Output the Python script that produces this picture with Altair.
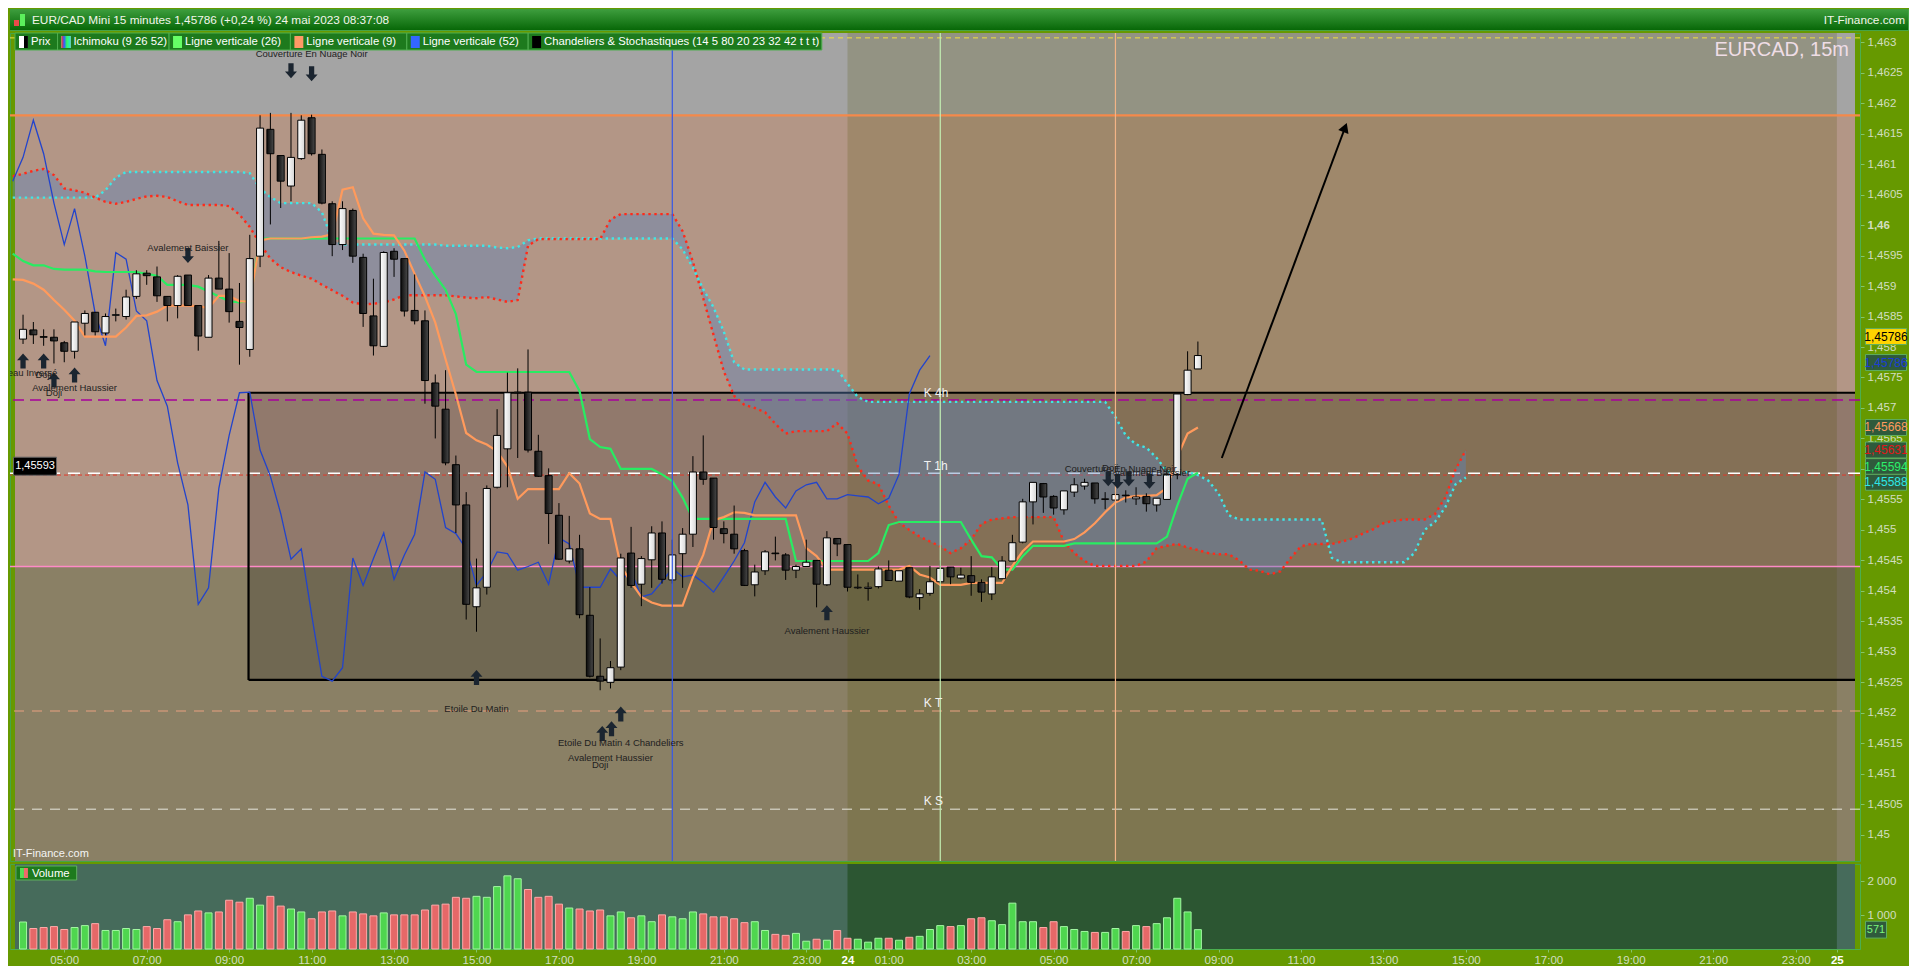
import altair as alt
import pandas as pd

# ---- values -------------------------------------------------------------
# 15 minute bars, 23 mai 04:00 -> 24 mai 08:30 ; x axis = hours since 23 mai 00:00
first_bar_hour = 4.0
bar_step = 0.25

bar_open = [1.45813, 1.45828, 1.45817, 1.45816, 1.45807, 1.45793, 1.45839, 1.45857, 1.45823, 1.45852,
            1.45850, 1.45883, 1.45921, 1.45915, 1.45883, 1.45868, 1.45918, 1.45868, 1.45816, 1.45913,
            1.45895, 1.45842, 1.45796, 1.45949, 1.46157, 1.46114, 1.46064, 1.46109, 1.46176, 1.46116,
            1.46035, 1.45968, 1.46024, 1.45947, 1.45851, 1.45801, 1.45957, 1.45945, 1.45860, 1.45843,
            1.45741, 1.45698, 1.45607, 1.45541, 1.45374, 1.45406, 1.45570, 1.45633, 1.45725, 1.45726,
            1.45629, 1.45589, 1.45524, 1.45449, 1.45469, 1.45360, 1.45260, 1.45250, 1.45275, 1.45462,
            1.45411, 1.45451, 1.45495, 1.45418, 1.45461, 1.45493, 1.45595, 1.45585, 1.45502, 1.45493,
            1.45466, 1.45410, 1.45433, 1.45462, 1.45459, 1.45434, 1.45440, 1.45450, 1.45410, 1.45486,
            1.45476, 1.45405, 1.45404, 1.45407, 1.45434, 1.45416, 1.45438, 1.45389, 1.45396, 1.45415,
            1.45439, 1.45421, 1.45425, 1.45414, 1.45395, 1.45420, 1.45449, 1.45480, 1.45546, 1.45576,
            1.45555, 1.45533, 1.45562, 1.45572, 1.45577, 1.45550, 1.45549, 1.45557, 1.45551, 1.45555,
            1.45541, 1.45550, 1.45591, 1.45722, 1.45764]
bar_high = [1.45853, 1.45841, 1.45829, 1.45829, 1.45810, 1.45841, 1.45860, 1.45857, 1.45855, 1.45863,
            1.45894, 1.45926, 1.45926, 1.45932, 1.45883, 1.45918, 1.45918, 1.45868, 1.45918, 1.45974,
            1.45954, 1.45905, 1.45984, 1.46180, 1.46184, 1.46114, 1.46184, 1.46180, 1.46181, 1.46124,
            1.46039, 1.46039, 1.46027, 1.45953, 1.45912, 1.45957, 1.45962, 1.45945, 1.45919, 1.45860,
            1.45755, 1.45762, 1.45622, 1.45562, 1.45453, 1.45573, 1.45698, 1.45758, 1.45765, 1.45796,
            1.45656, 1.45601, 1.45544, 1.45523, 1.45492, 1.45406, 1.45322, 1.45285, 1.45461, 1.45505,
            1.45457, 1.45506, 1.45514, 1.45484, 1.45503, 1.45621, 1.45655, 1.45585, 1.45514, 1.45540,
            1.45469, 1.45443, 1.45467, 1.45489, 1.45462, 1.45443, 1.45484, 1.45450, 1.45498, 1.45486,
            1.45476, 1.45427, 1.45414, 1.45440, 1.45450, 1.45433, 1.45438, 1.45403, 1.45441, 1.45450,
            1.45439, 1.45438, 1.45457, 1.45419, 1.45439, 1.45457, 1.45492, 1.45551, 1.45578, 1.45577,
            1.45557, 1.45564, 1.45585, 1.45584, 1.45577, 1.45562, 1.45564, 1.45565, 1.45570, 1.45560,
            1.45552, 1.45599, 1.45723, 1.45793, 1.45809]
bar_low = [1.45805, 1.45805, 1.45802, 1.45773, 1.45775, 1.45781, 1.45819, 1.45819, 1.45819, 1.45842,
           1.45845, 1.45879, 1.45902, 1.45874, 1.45842, 1.45847, 1.45868, 1.45794, 1.45816, 1.45895,
           1.45840, 1.45771, 1.45784, 1.45931, 1.46001, 1.46028, 1.46039, 1.46107, 1.46114, 1.46034,
           1.45949, 1.45959, 1.45938, 1.45833, 1.45786, 1.45800, 1.45915, 1.45850, 1.45837, 1.45707,
           1.45650, 1.45606, 1.45495, 1.45353, 1.45333, 1.45394, 1.45568, 1.45570, 1.45618, 1.45627,
           1.45587, 1.45477, 1.45451, 1.45445, 1.45355, 1.45258, 1.45237, 1.45240, 1.45270, 1.45405,
           1.45375, 1.45405, 1.45412, 1.45412, 1.45405, 1.45472, 1.45574, 1.45484, 1.45478, 1.45461,
           1.45408, 1.45391, 1.45426, 1.45450, 1.45418, 1.45421, 1.45440, 1.45373, 1.45408, 1.45457,
           1.45399, 1.45403, 1.45384, 1.45404, 1.45417, 1.45416, 1.45388, 1.45369, 1.45392, 1.45411,
           1.45411, 1.45419, 1.45392, 1.45382, 1.45385, 1.45420, 1.45449, 1.45478, 1.45509, 1.45528,
           1.45525, 1.45525, 1.45554, 1.45566, 1.45543, 1.45534, 1.45534, 1.45545, 1.45541, 1.45530,
           1.45530, 1.45550, 1.45583, 1.45721, 1.45764]
bar_close = [1.45829, 1.45820, 1.45816, 1.45810, 1.45793, 1.45841, 1.45855, 1.45825, 1.45850, 1.45853,
             1.45882, 1.45920, 1.45917, 1.45884, 1.45868, 1.45916, 1.45868, 1.45818, 1.45913, 1.45895,
             1.45858, 1.45832, 1.45945, 1.46159, 1.46117, 1.46072, 1.46111, 1.46172, 1.46117, 1.46036,
             1.45968, 1.46027, 1.45949, 1.45855, 1.45802, 1.45955, 1.45944, 1.45859, 1.45843, 1.45745,
             1.45703, 1.45610, 1.45541, 1.45378, 1.45405, 1.45568, 1.45655, 1.45725, 1.45726, 1.45631,
             1.45588, 1.45527, 1.45452, 1.45469, 1.45361, 1.45260, 1.45252, 1.45274, 1.45454, 1.45409,
             1.45453, 1.45495, 1.45419, 1.45459, 1.45493, 1.45595, 1.45583, 1.45504, 1.45494, 1.45469,
             1.45409, 1.45431, 1.45464, 1.45461, 1.45434, 1.45440, 1.45447, 1.45411, 1.45487, 1.45477,
             1.45406, 1.45406, 1.45406, 1.45436, 1.45417, 1.45433, 1.45390, 1.45395, 1.45415, 1.45437,
             1.45423, 1.45426, 1.45414, 1.45398, 1.45423, 1.45449, 1.45479, 1.45546, 1.45578, 1.45554,
             1.45536, 1.45564, 1.45574, 1.45578, 1.45551, 1.45551, 1.45558, 1.45556, 1.45554, 1.45543,
             1.45552, 1.45591, 1.45723, 1.45762, 1.45786]
bar_volume = [797, 605, 634, 662, 576, 634, 691, 749, 547, 547,
              605, 576, 662, 605, 864, 806, 1008, 1123, 1066, 1094,
              1440, 1382, 1498, 1296, 1555, 1267, 1181, 1094, 893, 1094,
              1123, 979, 1094, 1037, 979, 1066, 1008, 1008, 1008, 1152,
              1296, 1325, 1526, 1498, 1555, 1526, 1843, 2160, 2074, 1757,
              1526, 1555, 1325, 1210, 1181, 1123, 1152, 979, 1094, 922,
              979, 806, 1008, 950, 893, 1094, 1037, 950, 950, 893,
              778, 806, 547, 432, 403, 461, 230, 288, 259, 547,
              317, 288, 202, 317, 317, 259, 346, 374, 576, 691,
              662, 691, 893, 922, 835, 720, 1354, 806, 806, 634,
              806, 662, 576, 518, 490, 490, 605, 518, 691, 662,
              749, 922, 1498, 1094, 571]

# Ichimoku lines, one value per bar starting one bar before the first candle
tenkan = [1.45911, 1.45910, 1.45904, 1.45894, 1.45877, 1.45861, 1.45843, 1.45817, 1.45817, 1.45817,
          1.45817, 1.45832, 1.45851, 1.45852, 1.45858, 1.45868, 1.45868, 1.45868, 1.45867, 1.45864,
          1.45884, 1.45884, 1.45875, 1.45875, 1.45975, 1.45978, 1.45978, 1.45978, 1.45978, 1.45980,
          1.45981, 1.45985, 1.46058, 1.46062, 1.46011, 1.45986, 1.45984, 1.45983, 1.45958, 1.45920,
          1.45883, 1.45840, 1.45780, 1.45722, 1.45659, 1.45647, 1.45640, 1.45629, 1.45604, 1.45551,
          1.45567, 1.45567, 1.45567, 1.45567, 1.45593, 1.45576, 1.45527, 1.45518, 1.45518, 1.45441,
          1.45414, 1.45390, 1.45381, 1.45376, 1.45376, 1.45376, 1.45422, 1.45459, 1.45516, 1.45521,
          1.45529, 1.45528, 1.45524, 1.45524, 1.45524, 1.45524, 1.45524, 1.45470, 1.45457, 1.45435,
          1.45435, 1.45435, 1.45435, 1.45435, 1.45435, 1.45435, 1.45435, 1.45441, 1.45427, 1.45422,
          1.45410, 1.45410, 1.45410, 1.45413, 1.45413, 1.45413, 1.45413, 1.45441, 1.45465, 1.45481,
          1.45481, 1.45481, 1.45481, 1.45485, 1.45496, 1.45511, 1.45529, 1.45545, 1.45553, 1.45556,
          1.45556, 1.45557, 1.45569, 1.45620, 1.45658, 1.45668]
kijun = [1.45953, 1.45941, 1.45934, 1.45934, 1.45928, 1.45927, 1.45927, 1.45927, 1.45924, 1.45923,
         1.45923, 1.45923, 1.45923, 1.45920, 1.45917, 1.45902, 1.45902, 1.45902, 1.45899, 1.45891,
         1.45883, 1.45875, 1.45873, 1.45877, 1.45978, 1.45978, 1.45978, 1.45978, 1.45978, 1.45978,
         1.45978, 1.45978, 1.45978, 1.45978, 1.45978, 1.45978, 1.45978, 1.45978, 1.45978, 1.45978,
         1.45943, 1.45917, 1.45894, 1.45854, 1.45771, 1.45759, 1.45759, 1.45759, 1.45759, 1.45759,
         1.45759, 1.45759, 1.45759, 1.45759, 1.45759, 1.45728, 1.45649, 1.45636, 1.45633, 1.45600,
         1.45600, 1.45600, 1.45600, 1.45591, 1.45580, 1.45553, 1.45518, 1.45518, 1.45518, 1.45518,
         1.45518, 1.45518, 1.45518, 1.45518, 1.45518, 1.45518, 1.45449, 1.45449, 1.45449, 1.45449,
         1.45449, 1.45449, 1.45449, 1.45449, 1.45462, 1.45508, 1.45513, 1.45513, 1.45513, 1.45513,
         1.45513, 1.45513, 1.45513, 1.45484, 1.45457, 1.45455, 1.45435, 1.45435, 1.45457, 1.45474,
         1.45474, 1.45474, 1.45474, 1.45478, 1.45478, 1.45478, 1.45478, 1.45478, 1.45478, 1.45478,
         1.45478, 1.45478, 1.45489, 1.45540, 1.45584, 1.45594]
senkou_a = [1.46045, 1.46045, 1.46045, 1.46045, 1.46045, 1.46045, 1.46045, 1.46045, 1.46045, 1.46057,
            1.46078, 1.46087, 1.46087, 1.46087, 1.46087, 1.46087, 1.46087, 1.46087, 1.46087, 1.46087,
            1.46087, 1.46087, 1.46087, 1.46085, 1.46060, 1.46046, 1.46036, 1.46036, 1.46036, 1.46036,
            1.46021, 1.45975, 1.45968, 1.45968, 1.45968, 1.45968, 1.45968, 1.45968, 1.45968, 1.45968,
            1.45968, 1.45968, 1.45966, 1.45966, 1.45966, 1.45966, 1.45966, 1.45963, 1.45962, 1.45964,
            1.45975, 1.45978, 1.45978, 1.45978, 1.45978, 1.45978, 1.45978, 1.45978, 1.45978, 1.45978,
            1.45978, 1.45978, 1.45978, 1.45978, 1.45978, 1.45960, 1.45930, 1.45895, 1.45865, 1.45825,
            1.45775, 1.45763, 1.45763, 1.45763, 1.45763, 1.45763, 1.45763, 1.45763, 1.45763, 1.45763,
            1.45763, 1.45740, 1.45718, 1.45710, 1.45710, 1.45710, 1.45710, 1.45710, 1.45710, 1.45710,
            1.45710, 1.45710, 1.45710, 1.45710, 1.45710, 1.45710, 1.45710, 1.45710, 1.45710, 1.45710,
            1.45710, 1.45710, 1.45710, 1.45710, 1.45710, 1.45710, 1.45710, 1.45685, 1.45655, 1.45640,
            1.45635, 1.45618, 1.45596, 1.45593, 1.45595, 1.45590, 1.45581, 1.45560, 1.45524, 1.45517,
            1.45517, 1.45517, 1.45517, 1.45517, 1.45517, 1.45517, 1.45517, 1.45517, 1.45454, 1.45447,
            1.45447, 1.45447, 1.45447, 1.45447, 1.45447, 1.45447, 1.45462, 1.45500, 1.45513, 1.45537,
            1.45575, 1.45586]
senkou_b = [1.46080, 1.46084, 1.46089, 1.46092, 1.46082, 1.46060, 1.46057, 1.46053, 1.46045, 1.46038,
            1.46035, 1.46038, 1.46043, 1.46047, 1.46048, 1.46046, 1.46039, 1.46033, 1.46033, 1.46033,
            1.46033, 1.46031, 1.46017, 1.45997, 1.45969, 1.45945, 1.45931, 1.45923, 1.45917, 1.45912,
            1.45902, 1.45893, 1.45884, 1.45873, 1.45870, 1.45871, 1.45873, 1.45878, 1.45885, 1.45885,
            1.45885, 1.45885, 1.45885, 1.45883, 1.45881, 1.45880, 1.45882, 1.45878, 1.45874, 1.45877,
            1.45966, 1.45977, 1.45977, 1.45977, 1.45977, 1.45977, 1.45977, 1.45977, 1.46009, 1.46018,
            1.46018, 1.46018, 1.46018, 1.46018, 1.46018, 1.45990, 1.45940, 1.45880, 1.45820, 1.45760,
            1.45720, 1.45705, 1.45700, 1.45693, 1.45674, 1.45658, 1.45662, 1.45662, 1.45662, 1.45662,
            1.45675, 1.45658, 1.45604, 1.45581, 1.45575, 1.45540, 1.45512, 1.45500, 1.45489, 1.45481,
            1.45473, 1.45462, 1.45470, 1.45484, 1.45510, 1.45517, 1.45519, 1.45521, 1.45521, 1.45521,
            1.45521, 1.45521, 1.45481, 1.45462, 1.45449, 1.45441, 1.45441, 1.45441, 1.45441, 1.45441,
            1.45448, 1.45470, 1.45474, 1.45477, 1.45471, 1.45467, 1.45462, 1.45460, 1.45460, 1.45450,
            1.45435, 1.45433, 1.45427, 1.45432, 1.45454, 1.45473, 1.45477, 1.45477, 1.45477, 1.45481,
            1.45486, 1.45494, 1.45501, 1.45511, 1.45515, 1.45517, 1.45517, 1.45517, 1.45526, 1.45553,
            1.45599, 1.45631]

# price levels drawn across the chart
level_zone_top = 1.4618
level_pink = 1.4544
level_magenta = 1.45713
level_red = 1.45590
level_white = 1.45593
level_kt = 1.45203
level_ks = 1.45042
level_yellow = 1.46307
box_left, box_top, box_bottom = 9.47, 1.45725, 1.45254
vertical_hours = [19.75, 26.25, 30.5]
day_start, day_end = 24, 48

# pattern annotations (bar index, price)
pattern_text = ["Couverture En Nuage Noir", "Avalement Baissier", "Marteau Inversé", "Doji", "Doji",
                "Avalement Haussier", "Etoile Du Matin", "Etoile Du Matin 4 Chandeliers",
                "Avalement Haussier", "Doji", "Avalement Haussier", "Couverture En Nuage Noir",
                "Doji", "Avalement Baissier"]
pattern_bar = [28, 16, 0, 2, 3, 5, 44, 58, 57, 56, 78, 106.5, 105.5, 109.3]
pattern_price = [1.46280, 1.45963, 1.45757, 1.45754, 1.45725, 1.45733, 1.45206, 1.45150,
                 1.45126, 1.45115, 1.45334, 1.45600, 1.45602, 1.45594]
arrow_bar = [26, 28, 16, 105.3, 106.2, 107.3, 109.3, 0, 2, 3, 5, 44, 56.2, 57.1, 58, 78]
arrow_price = [1.46253, 1.46248, 1.45950, 1.45584, 1.45580, 1.45584, 1.45580,
               1.45777, 1.45777, 1.45746, 1.45754, 1.45258, 1.45166, 1.45174, 1.45198, 1.45364]
arrow_dir = ["down"] * 7 + ["up"] * 9

level_labels = ["K 4h", "T 1h", "K T", "K S"]
level_label_price = [1.45725, 1.45605, 1.45216, 1.45055]
level_label_hour = 25.85

trend_hour = [33.08, 36.07]
trend_price = [1.45618, 1.46160]

tag_value = [1.45786, 1.45786, 1.45668, 1.45631, 1.45594, 1.45588]
left_tag_value = 1.45593

legend_items = ["Prix", "Ichimoku (9 26 52)", "Ligne verticale (26)", "Ligne verticale (9)",
                "Ligne verticale (52)", "Chandeliers & Stochastiques (14 5 80 20 23 32 42 t t t)"]
header_title = "EUR/CAD Mini 15 minutes 1,45786 (+0,24 %) 24 mai 2023 08:37:08"
symbol_label = "EURCAD, 15m"
brand = "IT-Finance.com"

# ---- layout ---------------------------------------------------------------
W, HM, HV, HH = 1850, 828, 85, 21
WH = 1898
X0, X1 = 3.805, 48.44
Y0, Y1 = 1.44957, 1.46315
V1 = 2510
FONT = "Liberation Sans"

xs = alt.Scale(domain=[X0, X1], nice=False, zero=False)
ys = alt.Scale(domain=[Y0, Y1], nice=False, zero=False)
vs = alt.Scale(domain=[0, V1], nice=False, zero=True)


def to_hour(pixel):
    return X0 + pixel * (X1 - X0) / W


price_ticks = [round(1.45 + 0.0005 * i, 4) for i in range(27)]
yax = alt.Axis(orient="right", title=None, values=price_ticks, grid=False,
               labelExpr="replace(format(datum.value, '.4~f'), '.', ',')",
               labelColor="#d2dec0", labelFont=FONT, labelFontSize=11.5,
               labelFontWeight={"condition": {"test": "abs(datum.value - 1.46) < 0.00001", "value": "bold"},
                                "value": "normal"},
               tickColor="#86c46a", tickSize=4, domainColor="#4caf50", labelPadding=3)


def px(f):
    return alt.X(f, type="quantitative", scale=xs, axis=None)


def py(f):
    return alt.Y(f, type="quantitative", scale=ys, axis=yax)


bar_hours = [first_bar_hour + bar_step * i for i in range(len(bar_open))]
bars = pd.DataFrame({"t": bar_hours, "o": bar_open, "h": bar_high, "l": bar_low,
                     "c": bar_close, "v": bar_volume})
bars["up"] = bars["c"] >= bars["o"]

# background zones
zones = pd.DataFrame({"x": [X0] * 3, "x2": [X1] * 3,
                      "y": [level_zone_top, level_pink, Y0],
                      "y2": [Y1, level_zone_top, level_pink],
                      "c": ["#a4a4a4", "#b39686", "#8a8065"]})
zone_layer = alt.Chart(zones).mark_rect().encode(
    x=px("x"), x2="x2", y=py("y"), y2="y2", fill=alt.Fill("c:N", scale=None))

shade = pd.DataFrame({"x": [box_left, day_start], "x2": [X1, day_end],
                      "y": [box_bottom, Y0], "y2": [box_top, Y1],
                      "c": ["#000000", "#505000"], "o": [0.19, 0.2]})
shade_layer = alt.Chart(shade).mark_rect().encode(
    x=px("x"), x2="x2", y=py("y"), y2="y2",
    fill=alt.Fill("c:N", scale=None), opacity=alt.Opacity("o:Q", scale=None))

layers = [zone_layer, shade_layer]

hline_styles = [
    (level_zone_top, "#f5894a", None, 2.2),
    (level_pink, "#ff8ac8", None, 1.5),
    (level_magenta, "#a8009c", [11, 6], 1.6),
    (level_red, "#e03a2a", [4, 3], 1),
    (level_white, "#ffffff", [12, 8], 1.6),
    (level_kt, "#e8a080", [10, 8], 1),
    (level_ks, "#e6e6dc", [10, 8], 1),
    (level_yellow, "#f0e040", [5, 4], 1),
]
for lvl, col, dash, w in hline_styles:
    kw = {"color": col, "strokeWidth": w}
    if dash:
        kw["strokeDash"] = dash
    layers.append(alt.Chart(pd.DataFrame({"y": [lvl]})).mark_rule(**kw).encode(y=py("y")))

box = pd.DataFrame({"x": [box_left, box_left, box_left], "x2": [X1, X1, box_left],
                    "y": [box_top, box_bottom, box_bottom], "y2": [box_top, box_bottom, box_top]})
layers.append(alt.Chart(box).mark_rule(color="#000000", strokeWidth=2.2).encode(
    x=px("x"), x2="x2", y=py("y"), y2="y2"))

# cloud
cloud = pd.DataFrame({"t": [first_bar_hour + bar_step * (i - 1) for i in range(len(senkou_a))],
                      "a": senkou_a, "b": senkou_b})
layers.append(alt.Chart(cloud).mark_area(color="#5a82bd", opacity=0.42, clip=True).encode(
    x=px("t"), y=py("a"), y2="b"))
layers.append(alt.Chart(cloud).mark_line(color="#3fe6e6", strokeWidth=2.4, strokeDash=[2.4, 3.6],
                                         clip=True).encode(x=px("t"), y=py("a")))
layers.append(alt.Chart(cloud).mark_line(color="#ff2a1a", strokeWidth=2.4, strokeDash=[2.4, 3.6],
                                         clip=True).encode(x=px("t"), y=py("b")))

# chikou = close shifted back 26 bars
chikou = pd.DataFrame({"t": [first_bar_hour + bar_step * (i - 1) for i in range(len(bar_close) - 25)],
                       "v": bar_close[25:]})
layers.append(alt.Chart(chikou).mark_line(color="#2244cc", strokeWidth=1.3, clip=True).encode(
    x=px("t"), y=py("v")))

lines = pd.DataFrame({"t": [first_bar_hour + bar_step * (i - 1) for i in range(len(tenkan))],
                      "tk": tenkan, "kj": kijun})
layers.append(alt.Chart(lines).mark_line(color="#28ec62", strokeWidth=2.2, clip=True).encode(
    x=px("t"), y=py("kj")))
layers.append(alt.Chart(lines).mark_line(color="#ff9a5c", strokeWidth=2.2, clip=True).encode(
    x=px("t"), y=py("tk")))

# candles
grad_white = alt.Gradient(gradient="linear", x1=0, x2=1, y1=0, y2=0,
                          stops=[alt.GradientStop(offset=0, color="#ffffff"),
                                 alt.GradientStop(offset=1, color="#d6d6d6")])
grad_black = alt.Gradient(gradient="linear", x1=0, x2=1, y1=0, y2=0,
                          stops=[alt.GradientStop(offset=0, color="#0c0c0c"),
                                 alt.GradientStop(offset=1, color="#4a4a4a")])
layers.append(alt.Chart(bars).mark_rule(color="#000000", strokeWidth=1).encode(
    x=px("t"), y=py("l"), y2="h"))
layers.append(alt.Chart(bars[bars["up"]]).mark_bar(size=7, stroke="#000000", strokeWidth=1,
                                                 fill=grad_white).encode(x=px("t"), y=py("o"), y2="c"))
layers.append(alt.Chart(bars[~bars["up"]]).mark_bar(size=7, stroke="#000000", strokeWidth=1,
                                                  fill=grad_black).encode(x=px("t"), y=py("o"), y2="c"))

# vertical lines
vlines = pd.DataFrame({"x": vertical_hours, "c": ["#3558e8", "#c4f0b4", "#f2b486"]})
layers.append(alt.Chart(vlines).mark_rule(strokeWidth=1.2).encode(
    x=px("x"), color=alt.Color("c:N", scale=None)))

# trend arrow
trend = pd.DataFrame({"x": [trend_hour[0]], "x2": [trend_hour[1]],
                      "y": [trend_price[0]], "y2": [trend_price[1]]})
layers.append(alt.Chart(trend).mark_rule(color="#000000", strokeWidth=2).encode(
    x=px("x"), x2="x2", y=py("y"), y2="y2"))
layers.append(alt.Chart(trend).mark_point(shape="triangle-up", angle=21, size=120, filled=True,
                                          color="#000000", opacity=1).encode(x=px("x2"), y=py("y2")))

# pattern arrows and texts
DOWN = "M-0.35,-1 L0.35,-1 L0.35,0.1 L0.8,0.1 L0,1 L-0.8,0.1 L-0.35,0.1 Z"
UP = "M-0.35,1 L0.35,1 L0.35,-0.1 L0.8,-0.1 L0,-1 L-0.8,-0.1 L-0.35,-0.1 Z"
arrows = pd.DataFrame({"t": [first_bar_hour + bar_step * b for b in arrow_bar],
                       "p": arrow_price, "d": arrow_dir})
for d, shape in (("down", DOWN), ("up", UP)):
    layers.append(alt.Chart(arrows[arrows["d"] == d]).mark_point(
        shape=shape, size=225, filled=True, color="#1b2530", opacity=1).encode(x=px("t"), y=py("p")))

pats = pd.DataFrame({"t": [first_bar_hour + bar_step * b for b in pattern_bar],
                     "p": pattern_price, "s": pattern_text})
layers.append(alt.Chart(pats).mark_text(font=FONT, fontSize=9.5, color="#1e1e1e", clip=True).encode(
    x=px("t"), y=py("p"), text="s:N"))

klab = pd.DataFrame({"t": [level_label_hour] * len(level_labels), "p": level_label_price,
                     "s": level_labels})
layers.append(alt.Chart(klab).mark_text(align="left", baseline="middle", font=FONT, fontSize=12,
                                        color="#f2f2f2").encode(x=px("t"), y=py("p"), text="s:N"))

# legend row on top of the price panel
lx0, lx1 = [], []
cur = 0.0
for s in legend_items:
    w = 15 + 4.95 * len(s) + 8
    lx0.append(cur)
    lx1.append(cur + w)
    cur += w
leg = pd.DataFrame({"x": [to_hour(a) for a in lx0], "x2": [to_hour(b) for b in lx1],
                    "ix": [to_hour(a + 4) for a in lx0], "ix2": [to_hour(a + 13) for a in lx0],
                    "tx": [to_hour(a + 16) for a in lx0], "s": legend_items,
                    "c": ["#ffffff", "#ffffff", "#66ff66", "#ff9966", "#3366ff", "#000000"]})
layers.append(alt.Chart(leg).mark_rect(fill="#1d7a1d", stroke="#4fae4f", strokeWidth=1).encode(
    x=px("x"), x2="x2", y=alt.value(0), y2=alt.value(17)))
layers.append(alt.Chart(leg).mark_rect().encode(
    x=px("ix"), x2="ix2", y=alt.value(3), y2=alt.value(15), fill=alt.Fill("c:N", scale=None)))
grad_prix = alt.Gradient(gradient="linear", x1=0, x2=1, y1=0, y2=0,
                         stops=[alt.GradientStop(offset=0, color="#ffffff"),
                                alt.GradientStop(offset=0.55, color="#ffffff"),
                                alt.GradientStop(offset=0.56, color="#000000"),
                                alt.GradientStop(offset=1, color="#000000")])
grad_ichi = alt.Gradient(gradient="linear", x1=0, x2=1, y1=0, y2=0,
                         stops=[alt.GradientStop(offset=0, color="#ff3030"),
                                alt.GradientStop(offset=0.3, color="#3060ff"),
                                alt.GradientStop(offset=0.6, color="#30ff60"),
                                alt.GradientStop(offset=1, color="#30e0e0")])
layers.append(alt.Chart(leg.iloc[[0]]).mark_rect(fill=grad_prix).encode(
    x=px("ix"), x2="ix2", y=alt.value(3), y2=alt.value(15)))
layers.append(alt.Chart(leg.iloc[[1]]).mark_rect(fill=grad_ichi).encode(
    x=px("ix"), x2="ix2", y=alt.value(3), y2=alt.value(15)))
layers.append(alt.Chart(leg).mark_text(align="left", baseline="middle", font=FONT, fontSize=11.3,
                                       color="#ffffff").encode(x=px("tx"), y=alt.value(9), text="s:N"))

layers.append(alt.Chart(pd.DataFrame({"s": [symbol_label]})).mark_text(
    align="right", baseline="alphabetic", font=FONT, fontSize=20, color="#efdde6").encode(
    x=alt.value(W - 11), y=alt.value(23), text="s:N"))
layers.append(alt.Chart(pd.DataFrame({"s": [brand]})).mark_text(
    align="left", baseline="middle", font=FONT, fontSize=11, color="#f4f4f4").encode(
    x=alt.value(3), y=alt.value(HM - 7), text="s:N"))

# price tags on the right axis
RECT = "M-1,-0.39 L1,-0.39 L1,0.39 L-1,0.39 Z"
tag_fill = ["#ffd400", "#2f5a3c", "#2f5a3c", "#2f5a3c", "#2f5a3c", "#2f5a3c"]
tag_ink = ["#000000", "#1a3ed6", "#ff9a5c", "#e01818", "#2cf06a", "#2ee6e6"]
tag_nudge = [-19, 7, 0, 0, -6, 6]
for v, f, ink, nd in zip(tag_value, tag_fill, tag_ink, tag_nudge):
    tdf = pd.DataFrame({"p": [v], "s": [f"{v:.5f}".replace(".", ",")]})
    layers.append(alt.Chart(tdf).mark_point(shape=RECT, size=1681, filled=True, fill=f, stroke="#5fae5f",
                                            strokeWidth=1, opacity=1, yOffset=nd).encode(
        x=alt.value(W + 26), y=py("p")))
    layers.append(alt.Chart(tdf).mark_text(font=FONT, fontSize=12, color=ink, yOffset=nd).encode(
        x=alt.value(W + 26), y=py("p"), text="s:N"))

ltag = pd.DataFrame({"p": [left_tag_value], "s": [f"{left_tag_value:.5f}".replace(".", ",")]})
layers.append(alt.Chart(ltag).mark_point(shape="M-1,-0.42 L1,-0.42 L1,0.42 L-1,0.42 Z", size=1849,
                                         filled=True, fill="#000000", stroke="#666666", strokeWidth=1,
                                         opacity=1, yOffset=-7).encode(x=alt.value(25), y=py("p")))
layers.append(alt.Chart(ltag).mark_text(font=FONT, fontSize=11, color="#ffffff", yOffset=-7).encode(
    x=alt.value(25), y=py("p"), text="s:N"))

main = alt.layer(*layers).properties(width=W, height=HM)

# ---- volume panel -----------------------------------------------------------
hour_ticks = list(range(5, 24, 2)) + [24] + list(range(25, 48, 2)) + [48]
xax = alt.Axis(values=hour_ticks, title=None, grid=False,
               labelExpr="datum.value == 24 ? '24' : datum.value == 48 ? '25' : "
                         "((datum.value % 24) < 10 ? '0' : '') + (datum.value % 24) + ':00'",
               labelColor={"condition": {"test": "datum.value == 24 || datum.value == 48", "value": "#ffffff"},
                           "value": "#d2dec0"},
               labelFontWeight={"condition": {"test": "datum.value == 24 || datum.value == 48",
                                              "value": "bold"}, "value": "normal"},
               labelFont=FONT, labelFontSize=11.5, tickColor="#86c46a", tickSize=3,
               domainColor="#4caf50", labelPadding=2)
vax = alt.Axis(orient="right", title=None, values=[1000, 2000], grid=False,
               labelExpr="replace(format(datum.value, ','), ',', ' ')",
               labelColor="#d2dec0", labelFont=FONT, labelFontSize=11.5,
               tickColor="#86c46a", tickSize=4, domainColor="#4caf50", labelPadding=3)


def vx(f):
    return alt.X(f, type="quantitative", scale=xs, axis=xax)


def vy(f):
    return alt.Y(f, type="quantitative", scale=vs, axis=vax)


vbg = pd.DataFrame({"x": [X0, day_start], "x2": [X1, day_end], "y": [0, 0], "y2": [V1, V1],
                    "c": ["#466b5b", "#2c5632"]})
bars["fc"] = bars["up"].map({True: "#4fd64f", False: "#e66868"})
bars["sc"] = bars["up"].map({True: "#a2f7a2", False: "#ffaaaa"})
vlayers = [
    alt.Chart(vbg).mark_rect().encode(x=vx("x"), x2="x2", y=vy("y"), y2="y2",
                                      fill=alt.Fill("c:N", scale=None)),
    alt.Chart(bars).mark_bar(size=7, strokeWidth=1).encode(
        x=vx("t"), y=vy("v"), fill=alt.Fill("fc:N", scale=None), stroke=alt.Stroke("sc:N", scale=None)),
]
vlab = pd.DataFrame({"x": [to_hour(1)], "x2": [to_hour(62)], "g": [to_hour(5)], "g2": [to_hour(9)],
                     "r": [to_hour(9)], "r2": [to_hour(13)], "tx": [to_hour(17)], "s": ["Volume"]})
vlayers.append(alt.Chart(vlab).mark_rect(fill="#1d7a1d", stroke="#5fb05f", strokeWidth=1).encode(
    x=vx("x"), x2="x2", y=alt.value(2), y2=alt.value(16)))
vlayers.append(alt.Chart(vlab).mark_rect(fill="#55e055").encode(
    x=vx("g"), x2="g2", y=alt.value(4), y2=alt.value(14)))
vlayers.append(alt.Chart(vlab).mark_rect(fill="#f06a6a").encode(
    x=vx("r"), x2="r2", y=alt.value(4), y2=alt.value(14)))
vlayers.append(alt.Chart(vlab).mark_text(align="left", baseline="middle", font=FONT, fontSize=11.3,
                                         color="#ffffff").encode(x=vx("tx"), y=alt.value(9.5), text="s:N"))
vtag = pd.DataFrame({"v": [bar_volume[-1]], "s": [str(bar_volume[-1])]})
vlayers.append(alt.Chart(vtag).mark_point(shape="M-1,-0.8 L1,-0.8 L1,0.8 L-1,0.8 Z", size=441, filled=True,
                                          fill="#2f5a3c", stroke="#5fae5f", strokeWidth=1,
                                          opacity=1).encode(x=alt.value(W + 16), y=vy("v")))
vlayers.append(alt.Chart(vtag).mark_text(font=FONT, fontSize=11, color="#7cf57c").encode(
    x=alt.value(W + 16), y=vy("v"), text="s:N"))

vol = alt.layer(*vlayers).properties(width=W, height=HV)

# ---- header bar ---------------------------------------------------------------
hdf = pd.DataFrame({"s": [header_title], "r": [brand]})
grad_head = alt.Gradient(gradient="linear", x1=0, x2=0, y1=0, y2=1,
                         stops=[alt.GradientStop(offset=0, color="#3e9e3e"),
                                alt.GradientStop(offset=1, color="#086808")])
head = alt.layer(
    alt.Chart(hdf).mark_rect(fill=grad_head).encode(
        x=alt.value(0), x2=alt.value(WH), y=alt.value(0), y2=alt.value(HH)),
    alt.Chart(hdf).mark_rect(fill="#e84a4a").encode(
        x=alt.value(4), x2=alt.value(9), y=alt.value(11), y2=alt.value(17)),
    alt.Chart(hdf).mark_rect(fill="#5cf05c").encode(
        x=alt.value(10), x2=alt.value(15), y=alt.value(5), y2=alt.value(17)),
    alt.Chart(hdf).mark_text(align="left", baseline="middle", font=FONT, fontSize=11.8,
                             color="#f2f6ea").encode(x=alt.value(22), y=alt.value(11), text="s:N"),
    alt.Chart(hdf).mark_text(align="right", baseline="middle", font=FONT, fontSize=11.8,
                             color="#f2f6ea").encode(x=alt.value(WH - 3), y=alt.value(11), text="r:N"),
).properties(width=WH, height=HH)

chart = alt.vconcat(head, main, vol, spacing=0).resolve_scale(
    x="independent", y="independent"
).properties(
    background="#669900", padding=0
).configure_view(
    stroke="#46a446", strokeWidth=1
).configure_concat(spacing=0)

chart.save("out.html", embed_options={"renderer": "svg", "actions": False})
